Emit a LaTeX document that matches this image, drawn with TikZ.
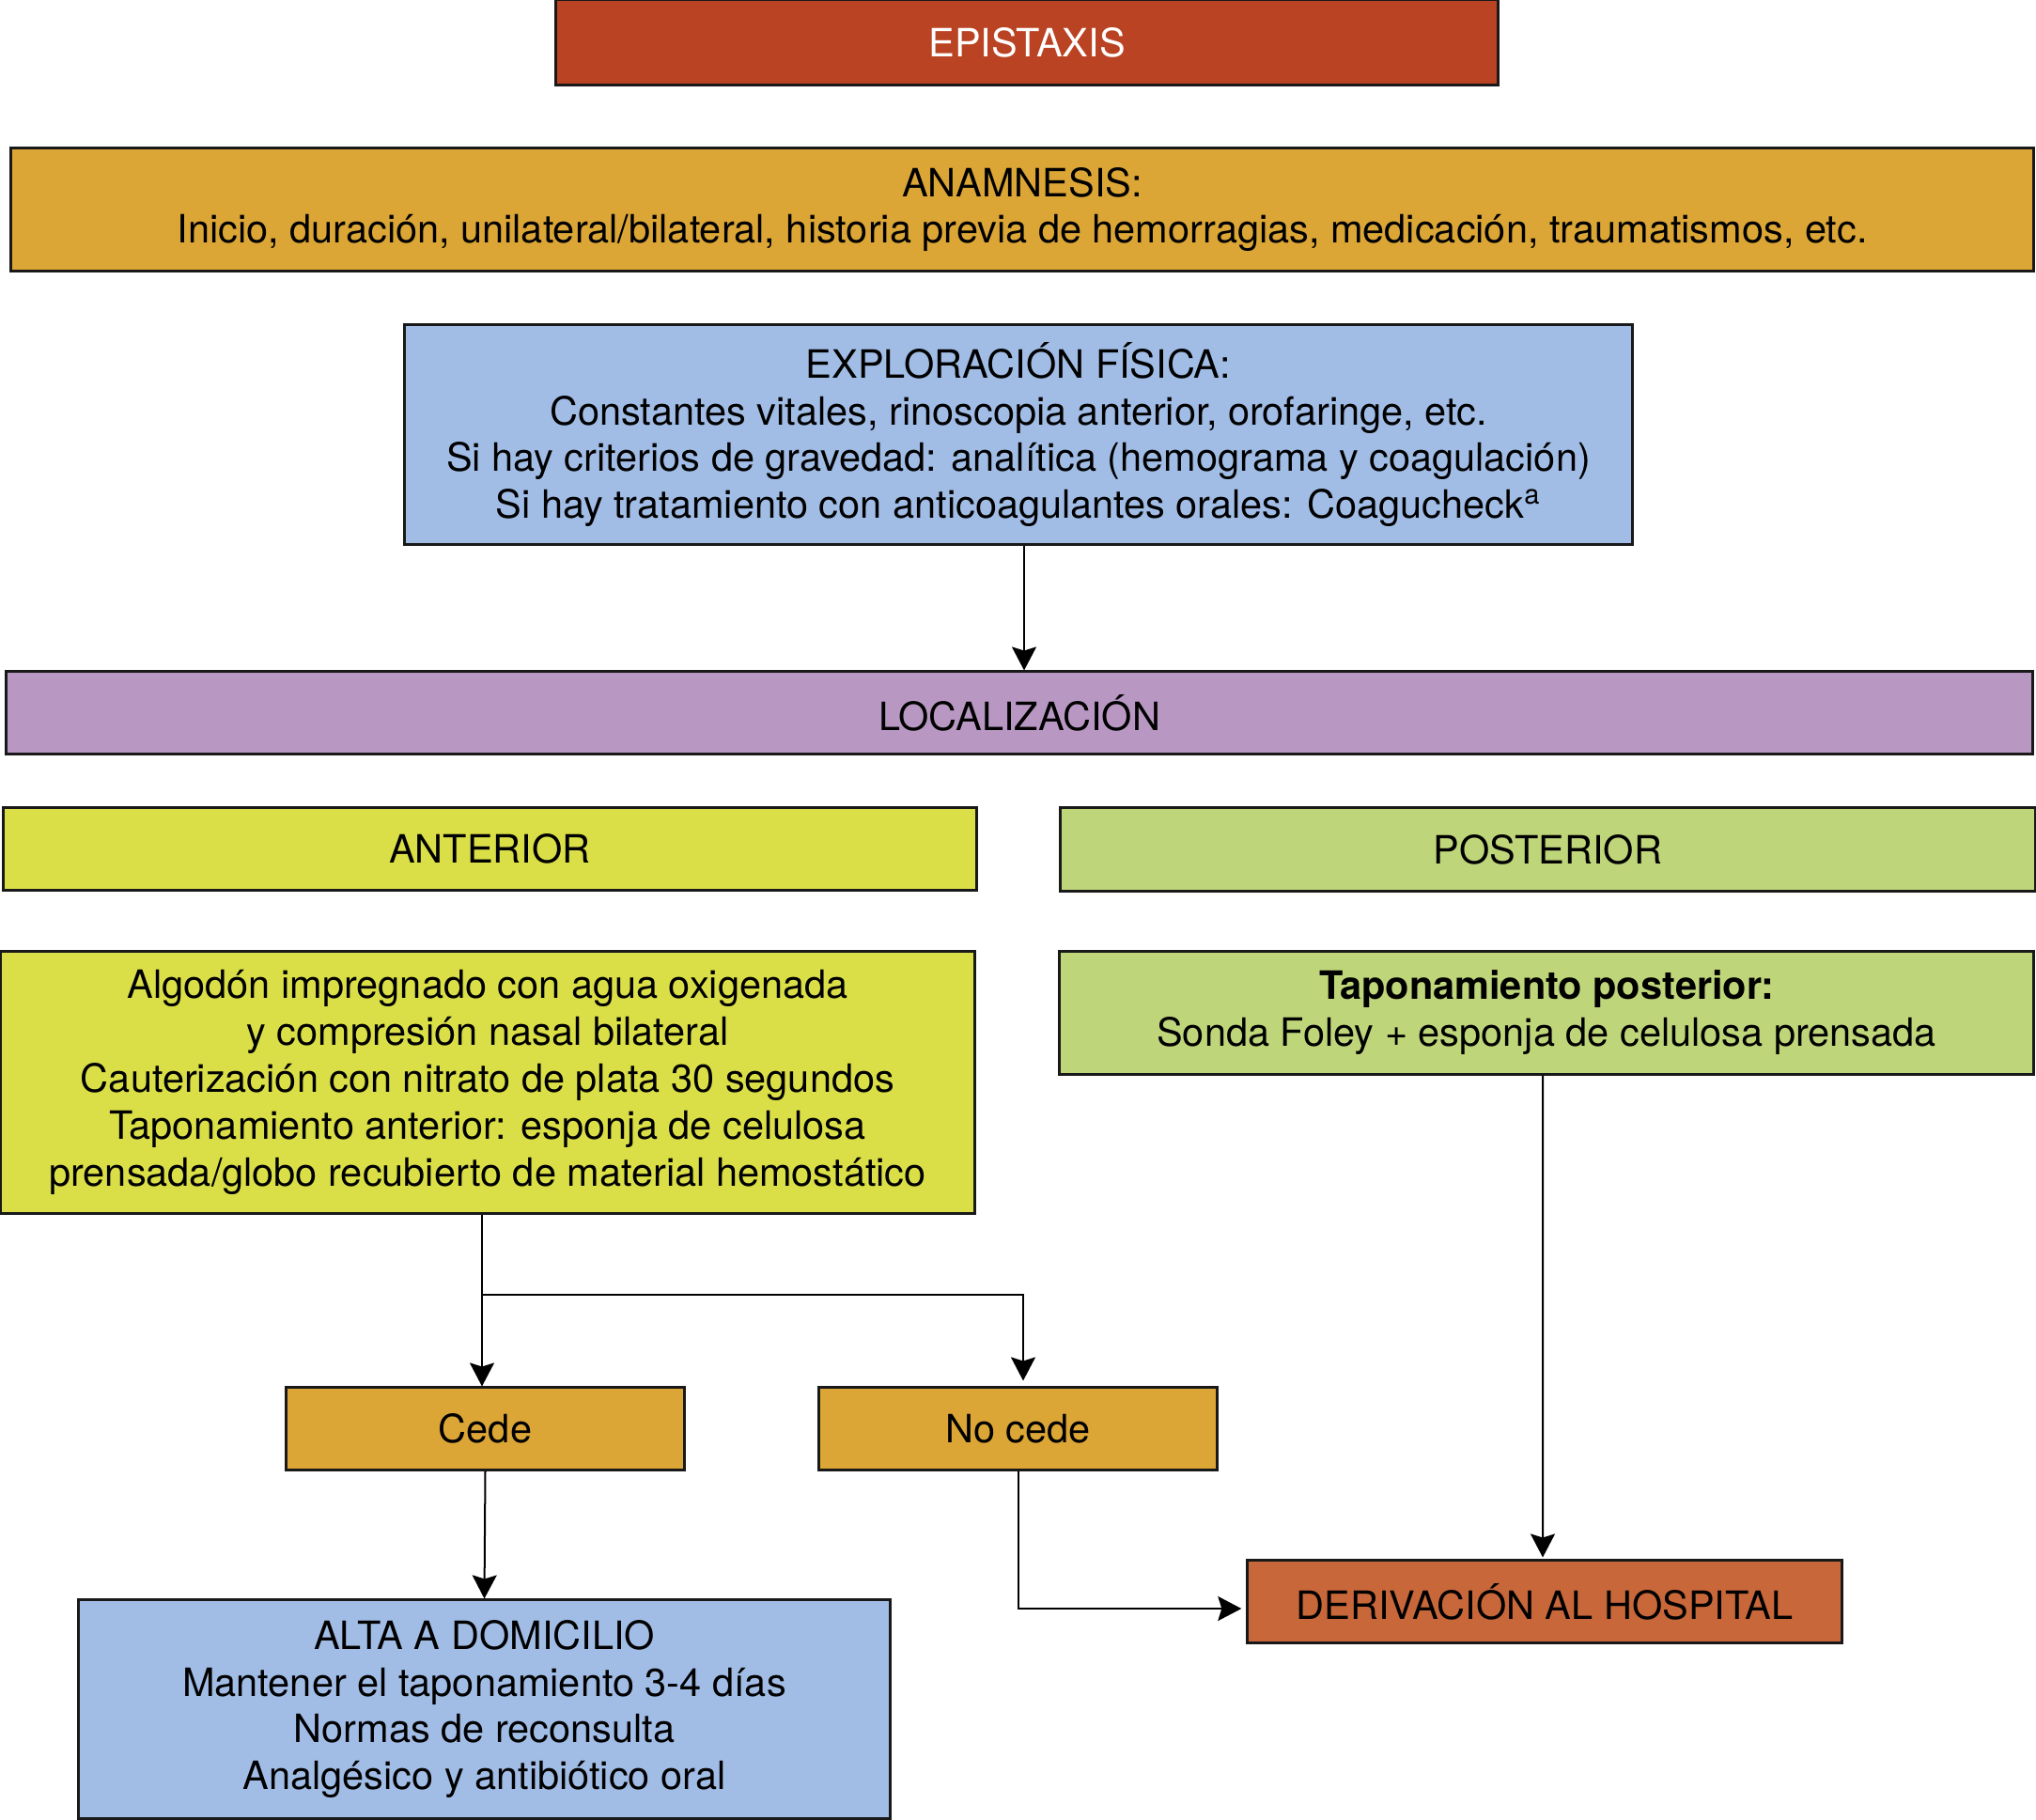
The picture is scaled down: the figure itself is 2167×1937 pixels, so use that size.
\documentclass[tikz,border=0pt]{standalone}
\usepackage{fontspec}
\setmainfont{TeX Gyre Heros}
\usetikzlibrary{arrows.meta}
\definecolor{cEpi}{HTML}{B94322}
\definecolor{cOcre}{HTML}{DCA636}
\definecolor{cBlue}{HTML}{A1BDE6}
\definecolor{cPurp}{HTML}{B898C3}
\definecolor{cYel}{HTML}{DBDF47}
\definecolor{cGreen}{HTML}{BFD57A}
\definecolor{cDer}{HTML}{C8673A}
\tikzset{
  box/.style={draw=black!90, line width=0.85pt, rectangle, align=center, inner sep=0pt,
    font=\fontsize{11.8}{14.2}\selectfont},
  conn/.style={line width=0.57pt, -{Stealth[length=0.25cm,width=0.26cm,inset=0.04cm]}},
}
\begin{document}
\begin{tikzpicture}[x=0.01cm,y=-0.01cm]
\useasboundingbox (0,0) rectangle (2167,1937);
\node[box, fill=cEpi, text=white, minimum width=10.02cm, minimum height=0.9cm] (epi) at (1093,45) {EPISTAXIS};
\node[box, fill=cOcre, minimum width=21.52cm, minimum height=1.31cm] (ana) at (1088,223)
  {ANAMNESIS:\\Inicio, duración, unilateral/bilateral, historia previa de hemorragias, medicación, traumatismos, etc.};
\node[box, fill=cBlue, minimum width=13.06cm, minimum height=2.33cm] (exp) at (1084,462.5)
  {EXPLORACIÓN FÍSICA:\\Constantes vitales, rinoscopia anterior, orofaringe, etc.\\Si hay criterios de gravedad: analítica (hemograma y coagulación)\\Si hay tratamiento con anticoagulantes orales: Coagucheck\textsuperscript{a}};
\node[box, fill=cPurp, minimum width=21.56cm, minimum height=0.87cm] (loc) at (1085,758.5) {LOCALIZACIÓN};
\node[box, fill=cYel, minimum width=10.35cm, minimum height=0.87cm] (ant) at (521.5,903.5) {ANTERIOR};
\node[box, fill=cGreen, minimum width=10.37cm, minimum height=0.88cm] (post) at (1647.5,904) {POSTERIOR};
\node[box, fill=cYel, minimum width=10.36cm, minimum height=2.78cm] (antt) at (519,1152)
  {Algodón impregnado con agua oxigenada\\y compresión nasal bilateral\\Cauterización con nitrato de plata 30 segundos\\Taponamiento anterior: esponja de celulosa\\prensada/globo recubierto de material hemostático};
\node[box, fill=cGreen, minimum width=10.36cm, minimum height=1.30cm] (postt) at (1646,1078)
  {\textbf{Taponamiento posterior:}\\Sonda Foley + esponja de celulosa prensada};
\node[box, fill=cOcre, minimum width=4.23cm, minimum height=0.87cm] (cede) at (516.5,1520.5) {Cede};
\node[box, fill=cOcre, minimum width=4.23cm, minimum height=0.87cm] (nocede) at (1083.5,1520.5) {No cede};
\node[box, fill=cDer, minimum width=6.32cm, minimum height=0.87cm] (der) at (1644,1704.5) {DERIVACIÓN AL HOSPITAL};
\node[box, fill=cBlue, minimum width=8.63cm, minimum height=2.32cm] (alta) at (515.5,1819)
  {ALTA A DOMICILIO\\Mantener el taponamiento 3-4 días\\Normas de reconsulta\\Analgésico y antibiótico oral};
% connectors
\draw[conn] ([xshift=0.06cm]exp.south) -- ([xshift=0.06cm]exp.south |- loc.north);
\coordinate (br) at ([xshift=-0.06cm]antt.south |- 0,1378);
\draw[conn] ([xshift=-0.06cm]antt.south) -- ([xshift=-0.06cm]antt.south |- cede.north);
\draw[conn, shorten >=0.06cm] (br) -| ([xshift=0.055cm]nocede.north);
\draw[conn] (cede.south) -- (alta.north);
\draw[conn, shorten >=0.05cm] (nocede.south) |- ([yshift=-0.075cm]der.west);
\draw[conn, shorten >=0.02cm] ([xshift=-0.04cm]postt.south) -- ([xshift=-0.02cm]der.north);
\end{tikzpicture}
\end{document}
